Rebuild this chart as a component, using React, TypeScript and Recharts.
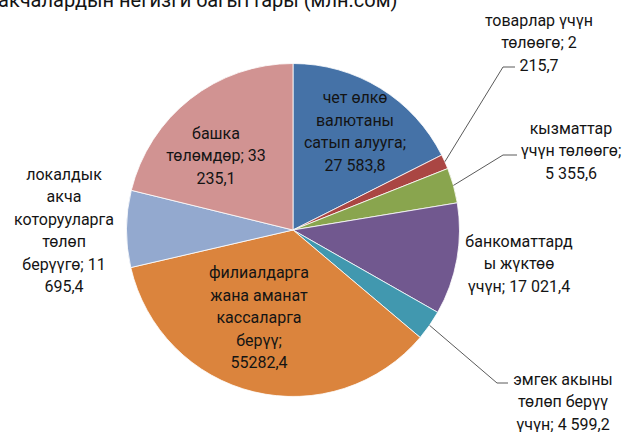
import React from 'react';
import { PieChart, Pie, Cell } from 'recharts';

// slices, clockwise from 12 o'clock
const categories = [
  'чет өлкө валютаны сатып алууга',
  'товарлар үчүн төлөөгө',
  'кызматтар үчүн төлөөгө',
  'банкоматтарды жүктөө үчүн',
  'эмгек акыны төлөп берүү үчүн',
  'филиалдарга жана аманат кассаларга берүү',
  'локалдык акча которууларга төлөп берүүгө',
  'башка төлөмдөр',
];
const values = [27583.8, 2215.7, 5355.6, 17021.4, 4599.2, 55282.4, 11695.4, 33235.1];
const labelLines = [
  ['чет өлкө', 'валютаны', 'сатып алууга;', '27 583,8'],
  ['товарлар үчүн', 'төлөөгө; 2', '215,7'],
  ['кызматтар', 'үчүн төлөөгө;', '5 355,6'],
  ['банкоматтард', 'ы жүктөө', 'үчүн; 17 021,4'],
  ['эмгек акыны', 'төлөп берүү', 'үчүн; 4 599,2'],
  ['филиалдарга', 'жана аманат', 'кассаларга', 'берүү;', '55282,4'],
  ['локалдык', 'акча', 'которууларга', 'төлөп', 'берүүгө; 11', '695,4'],
  ['башка', 'төлөмдөр; 33', '235,1'],
];
const colors = ['#4572A7', '#AA4643', '#89A54E', '#71588F', '#4198AF', '#DB843D', '#93A9CF', '#D19392'];

const title = 'акчалардын негизги багыттары (млн.сом)';

// where each label block sits, relative to the pie centre (elbow = leader line knee)
const placement: { dx: number; dy: number; elbow?: [number, number]; end?: [number, number] }[] = [
  { dx: 62, dy: -99 },
  { dx: 246, dy: -188, elbow: [210, -163], end: [222, -163] },
  { dx: 278, dy: -80, elbow: [210, -75], end: [224, -75] },
  { dx: 226, dy: 33 },
  { dx: 270, dy: 171, elbow: [204, 153], end: [215, 153] },
  { dx: -34, dy: 87 },
  { dx: -229, dy: 0 },
  { dx: -77, dy: -75 },
];

const data = categories.map((name, i) => ({ name, value: values[i] }));

const FONT = 'Roboto, "Noto Sans", sans-serif';
const LINE_H = 22.5;
const RAD = Math.PI / 180;

const renderLabel = (props: any) => {
  const { cx, cy, midAngle, outerRadius, index } = props;
  const p = placement[index];
  const lines = labelLines[index];
  const x = cx + p.dx;
  const top = cy + p.dy - ((lines.length - 1) * LINE_H) / 2;
  let leader = null;
  if (p.elbow && p.end) {
    const sx = cx + outerRadius * Math.cos(-midAngle * RAD);
    const sy = cy + outerRadius * Math.sin(-midAngle * RAD);
    const pts = `${sx},${sy} ${cx + p.elbow[0]},${cy + p.elbow[1]} ${cx + p.end[0]},${cy + p.end[1]}`;
    leader = <polyline points={pts} fill="none" stroke="#5a5a5a" strokeWidth={1} />;
  }
  return (
    <g key={`lbl-${index}`}>
      {leader}
      <text x={x} y={top} textAnchor="middle" dominantBaseline="central" fill="#141414" fontSize={16} fontFamily={FONT}>
        {lines.map((l, i) => (
          <tspan key={i} x={x} dy={i === 0 ? 0 : LINE_H}>
            {l}
          </tspan>
        ))}
      </text>
    </g>
  );
};

export default function App() {
  return (
    <div style={{ position: 'absolute', left: 0, top: 0, width: 630, height: 432, background: '#fff', overflow: 'hidden' }}>
      <PieChart width={630} height={432} margin={{ top: 0, right: 0, bottom: 0, left: 0 }}>
        {/* chart title, its upper part lies above the picture as in the reference */}
        <text x={-2} y={6.5} fill="#141414" fontSize={20} fontFamily={FONT}>
          {title}
        </text>
        <Pie
          data={data}
          dataKey="value"
          nameKey="name"
          cx={293}
          cy={230}
          outerRadius={166.5}
          startAngle={90}
          endAngle={-270}
          stroke="#ffffff"
          strokeWidth={0.8}
          label={renderLabel}
          labelLine={false}
          isAnimationActive={false}
        >
          {data.map((d, i) => (
            <Cell key={`cell-${i}`} fill={colors[i]} />
          ))}
        </Pie>
      </PieChart>
    </div>
  );
}
